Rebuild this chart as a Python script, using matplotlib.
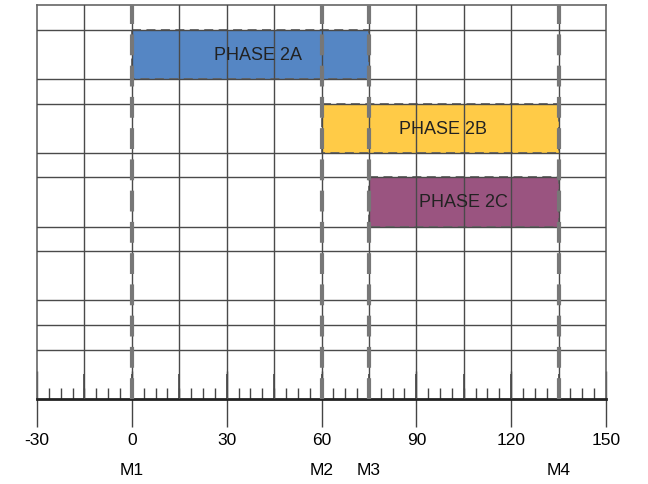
import matplotlib
matplotlib.use("Agg")
import matplotlib.pyplot as plt
import matplotlib.transforms as mtransforms
import numpy as np

plt.rcParams['font.family'] = ['Liberation Sans', 'DejaVu Sans']
plt.rcParams['axes.unicode_minus'] = False

# data
phases = ["PHASE 2A", "PHASE 2B", "PHASE 2C"]
phase_start = [0, 60, 75]
phase_end = [75, 135, 135]
phase_row = [1, 4, 7]          # top edge of each bar (rows counted from the top)
phase_height = [2, 2, 2]
phase_label_x = [40, 98.5, 105]
phase_colors = ["#5586C4", "#FFCB47", "#9A5480"]

milestones = ["M1", "M2", "M3", "M4"]
milestone_x = [0, 60, 75, 135]

hlines = [1, 3, 4, 6, 7, 9, 10, 12, 13, 14]
xmin, xmax = -30, 150
ymax = 16

fig = plt.figure(figsize=(6.48, 4.85), dpi=100)
ax = fig.add_axes([0.0571, 0.1753, 0.8781, 0.8123])

ax.set_xlim(xmin, xmax)
ax.set_ylim(ymax, 0)

# grid
for x in np.arange(xmin + 15, xmax, 15):
    ax.axvline(x, color="#4a4a4a", lw=1.0, zorder=3)
for y in hlines:
    ax.axhline(y, color="#4a4a4a", lw=1.0, zorder=3)

# phase bars
for name, s, e, r, h, lx, c in zip(phases, phase_start, phase_end, phase_row,
                                    phase_height, phase_label_x, phase_colors):
    ax.barh(r + h / 2, e - s, left=s, height=h, color=c, edgecolor="#666666",
            linestyle=(0, (5, 3)), linewidth=1.3, zorder=2)
    ax.text(lx, r + h / 2, name, ha="center", va="center",
            fontsize=13, color="#222222", zorder=5)

# milestones
trans = mtransforms.blended_transform_factory(ax.transData, ax.transAxes)
for name, x in zip(milestones, milestone_x):
    ax.axvline(x, color="#777777", lw=3, linestyle=(0, (5, 2.5)), zorder=4)
    ax.text(x, -0.178, name, transform=trans, ha="center", va="center", fontsize=12.5)

# ticks
ax.set_yticks([])
ax.set_xticks(np.arange(xmin, xmax + 1, 30))
ax.set_xticks(np.arange(xmin, xmax, 3.75), minor=True)
ax.tick_params(axis="x", which="major", direction="inout", length=40, width=1,
               color="#444444", labelsize=12.5, pad=4)
ax.tick_params(axis="x", which="minor", direction="in", length=8, width=1, color="#444444")

sec = ax.secondary_xaxis("bottom")
sec.set_xticks(np.arange(xmin + 15, xmax, 15))
sec.tick_params(direction="in", length=18, width=1.2, color="#444444", labelbottom=False)
sec.spines["bottom"].set_visible(False)

for side in ["top", "left", "right"]:
    ax.spines[side].set_color("#666666")
    ax.spines[side].set_linewidth(1.2)
ax.spines["bottom"].set_color("#222222")
ax.spines["bottom"].set_linewidth(2)

fig.savefig("out.png", dpi=100)
